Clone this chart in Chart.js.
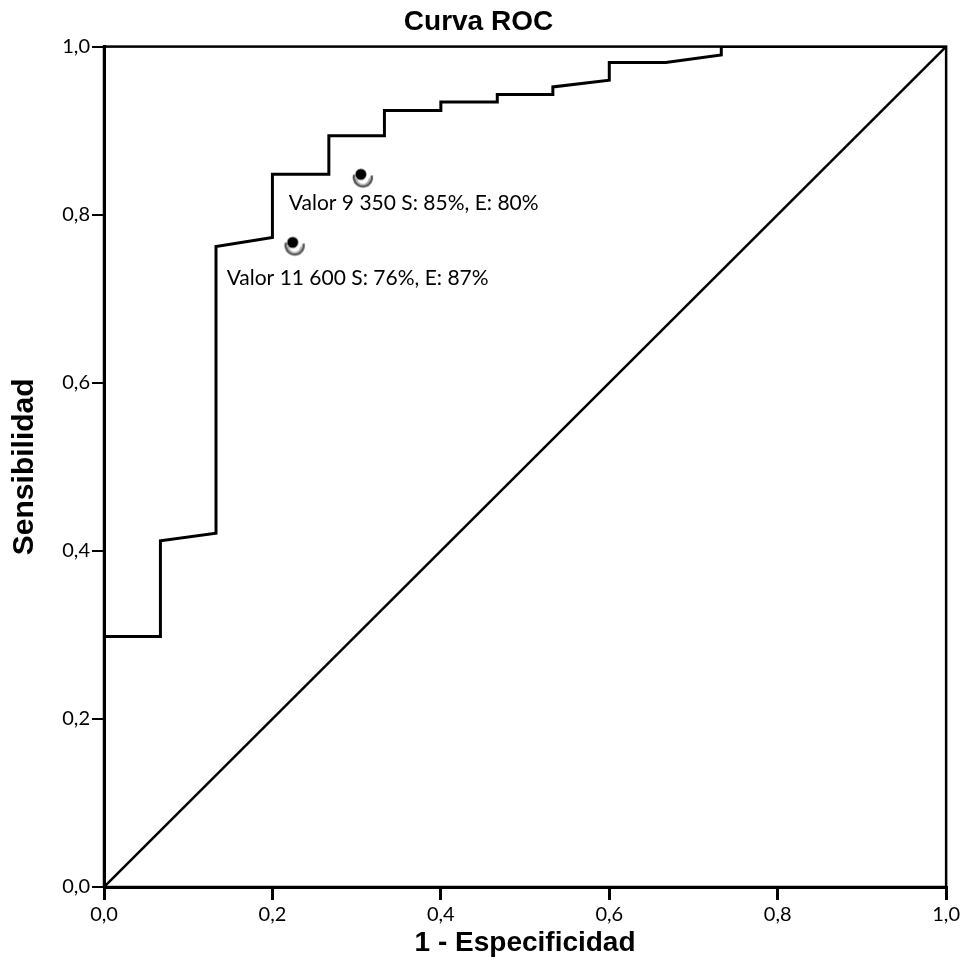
<!DOCTYPE html>
<html>
<head>
<meta charset="utf-8">
<title>Curva ROC</title>
<script src="https://cdn.jsdelivr.net/npm/chart.js@4.4.1/dist/chart.umd.min.js"></script>
<style>
    body { margin: 0; background: #fff; }
    #wrap { width: 963px; height: 978px; }
</style>
</head>
<body>
<div id="wrap"><canvas id="rocChart" width="963" height="978"></canvas></div>
<script>
// ROC curve (1 - especificidad, sensibilidad)
const rocX = [0, 0, 0.067, 0.067, 0.133, 0.133, 0.2, 0.2, 0.267, 0.267, 0.333, 0.333,
              0.4, 0.4, 0.467, 0.467, 0.533, 0.533, 0.6, 0.6, 0.667, 0.733, 0.733, 1.0];
const rocY = [0, 0.298, 0.298, 0.412, 0.421, 0.762, 0.773, 0.848, 0.848, 0.894, 0.894, 0.924,
              0.924, 0.934, 0.934, 0.943, 0.943, 0.952, 0.960, 0.981, 0.981, 0.990, 1.0, 1.0];

// reference diagonal
const diagX = [0, 1];
const diagY = [0, 1];

// marked cut-off points
const cutX = [0.305, 0.224];
const cutY = [0.848, 0.767];
const cutLabels = ['Valor 9 350 S: 85%, E: 80%', 'Valor 11 600 S: 76%, E: 87%'];

const tickValues = [0, 0.2, 0.4, 0.6, 0.8, 1.0];

const toPoints = (xs, ys) => xs.map((x, i) => ({ x: x, y: ys[i] }));
const fmt = v => v.toFixed(1).replace('.', ',');

// black dot with a grey "shadow" ring, like the SPSS marker
function makeMarker() {
    const c = document.createElement('canvas');
    c.width = 34;
    c.height = 34;
    const g = c.getContext('2d');
    g.strokeStyle = '#555';
    g.lineWidth = 2.5;
    g.beginPath();
    g.arc(19, 20, 9, -0.2, Math.PI + 0.3);
    g.stroke();
    g.strokeStyle = '#aaa';
    g.lineWidth = 1.5;
    g.beginPath();
    g.arc(19, 21, 6.5, 0, Math.PI);
    g.stroke();
    g.fillStyle = '#000';
    g.beginPath();
    g.arc(17, 17, 5.5, 0, Math.PI * 2);
    g.fill();
    return c;
}

// frame around the plot area
const frame = {
    id: 'frame',
    afterDatasetsDraw(chart) {
        const a = chart.chartArea;
        const ctx = chart.ctx;
        ctx.save();
        ctx.strokeStyle = '#000';
        ctx.lineWidth = 2.5;
        ctx.strokeRect(a.left, a.top, a.right - a.left, a.bottom - a.top);
        ctx.restore();
    }
};

// text next to each cut-off marker
const cutText = {
    id: 'cutText',
    afterDatasetsDraw(chart) {
        const ctx = chart.ctx;
        const xs = chart.scales.x, ys = chart.scales.y;
        const offsets = [[-72, 29], [-66, 36]];
        ctx.save();
        ctx.font = '21px Lato';
        ctx.fillStyle = '#000';
        ctx.textBaseline = 'middle';
        ctx.textAlign = 'left';
        cutLabels.forEach((t, i) => {
            const px = xs.getPixelForValue(cutX[i]);
            const py = ys.getPixelForValue(cutY[i]);
            ctx.fillText(t, px + offsets[i][0], py + offsets[i][1]);
        });
        ctx.restore();
    }
};

const ctx = document.getElementById('rocChart').getContext('2d');
new Chart(ctx, {
    type: 'line',
    data: {
        datasets: [
            {
                data: toPoints(rocX, rocY),
                borderColor: '#000',
                borderWidth: 3,
                pointRadius: 0,
                tension: 0,
                fill: false
            },
            {
                data: toPoints(diagX, diagY),
                borderColor: '#000',
                borderWidth: 2.5,
                pointRadius: 0,
                tension: 0,
                fill: false
            },
            {
                data: toPoints(cutX, cutY),
                showLine: false,
                pointStyle: makeMarker(),
                pointRadius: 6
            }
        ]
    },
    options: {
        responsive: false,
        animation: false,
        devicePixelRatio: 1,
        layout: { padding: { left: 0, right: 6, top: 0, bottom: 0 } },
        plugins: {
            legend: { display: false },
            tooltip: { enabled: false },
            title: {
                display: true,
                text: 'Curva ROC',
                color: '#000',
                font: { family: 'Liberation Sans', size: 28, weight: 'bold' },
                padding: { top: 5, bottom: 8 }
            }
        },
        scales: {
            x: {
                type: 'linear',
                min: 0,
                max: 1,
                afterFit: s => { s.height = 91; },
                afterBuildTicks: s => { s.ticks = tickValues.map(v => ({ value: v })); },
                ticks: {
                    callback: v => fmt(v),
                    color: '#000',
                    font: { family: 'Lato', size: 20 },
                    maxRotation: 0,
                    padding: 3
                },
                grid: { display: true, drawOnChartArea: false, drawTicks: true, tickLength: 13, color: '#000', lineWidth: 3 },
                border: { display: true, color: '#000', width: 3 },
                title: {
                    display: true,
                    text: '1 - Especificidad',
                    color: '#000',
                    font: { family: 'Liberation Sans', size: 28, weight: 'bold' },
                    padding: { top: 0, bottom: 18 }
                }
            },
            y: {
                type: 'linear',
                min: 0,
                max: 1,
                afterFit: s => { s.width = 104; },
                afterBuildTicks: s => { s.ticks = tickValues.map(v => ({ value: v })); },
                ticks: {
                    callback: v => fmt(v),
                    color: '#000',
                    font: { family: 'Lato', size: 20 },
                    padding: 2
                },
                grid: { display: true, drawOnChartArea: false, drawTicks: true, tickLength: 12, color: '#000', lineWidth: 2 },
                border: { display: true, color: '#000', width: 3 },
                title: {
                    display: true,
                    text: 'Sensibilidad',
                    color: '#000',
                    font: { family: 'Liberation Sans', size: 30, weight: 'bold' },
                    padding: { top: 7, bottom: 0 }
                }
            }
        }
    },
    plugins: [frame, cutText]
});
</script>
</body>
</html>
